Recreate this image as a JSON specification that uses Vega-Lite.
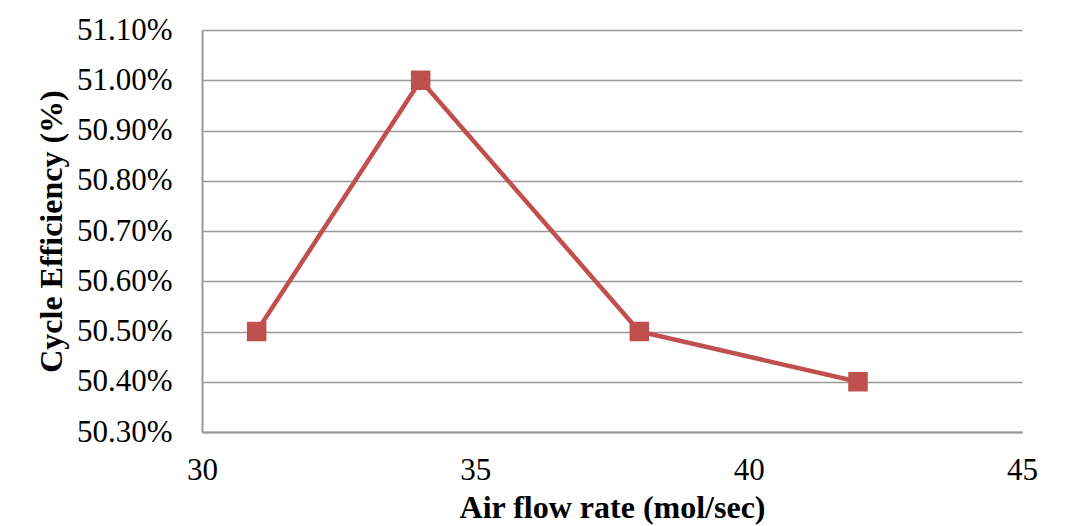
{
  "$schema": "https://vega.github.io/schema/vega-lite/v6.json",
  "width": 820,
  "height": 402,
  "autosize": {"type": "none"},
  "padding": {"left": 202, "top": 30, "right": 61, "bottom": 94},
  "background": "white",
  "config": {
    "view": {"stroke": null},
    "font": "Liberation Serif"
  },
  "data": {
    "values": [
      {"air": 31, "eff": 0.505},
      {"air": 34, "eff": 0.510},
      {"air": 38, "eff": 0.505},
      {"air": 42, "eff": 0.504}
    ]
  },
  "mark": {"type": "line", "color": "#C0504D", "strokeWidth": 4.5, "point": {"shape": "square", "size": 380, "filled": true, "color": "#C0504D", "opacity": 1}},
  "encoding": {
    "x": {
      "field": "air", "type": "quantitative",
      "scale": {"domain": [30, 45], "nice": false, "zero": false},
      "axis": {
        "values": [30, 35, 40, 45], "grid": false, "ticks": false,
        "domainColor": "#999999", "domainWidth": 2,
        "labelFont": "Liberation Serif", "labelFontSize": 31, "labelColor": "black", "labelPadding": 23,
        "labelFlush": false,
        "title": "Air flow rate (mol/sec)", "titleFont": "Liberation Serif", "titleFontSize": 32,
        "titleFontWeight": "bold", "titleColor": "black", "titlePadding": 7
      }
    },
    "y": {
      "field": "eff", "type": "quantitative",
      "scale": {"domain": [0.503, 0.511], "nice": false, "zero": false},
      "axis": {
        "values": [0.503, 0.504, 0.505, 0.506, 0.507, 0.508, 0.509, 0.51, 0.511],
        "format": ".2%", "grid": true, "gridColor": "#999999", "gridWidth": 1.5, "ticks": false,
        "domainColor": "#999999", "domainWidth": 2,
        "labelFont": "Liberation Serif", "labelFontSize": 31, "labelColor": "black", "labelPadding": 30,
        "title": "Cycle Efficiency (%)", "titleFont": "Liberation Serif", "titleFontSize": 32,
        "titleFontWeight": "bold", "titleColor": "black", "titlePadding": 8
      }
    }
  }
}
